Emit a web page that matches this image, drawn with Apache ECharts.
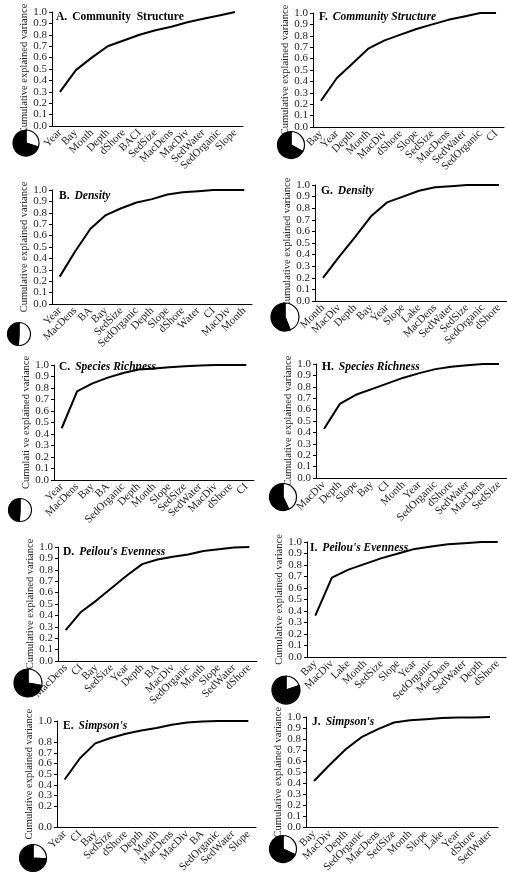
<!DOCTYPE html>
<html>
<head>
<meta charset="utf-8">
<script src="https://cdn.jsdelivr.net/npm/echarts@6/dist/echarts.min.js"></script>
<style>
  html, body { margin: 0; padding: 0; background: #fff; }
  #main { width: 507px; height: 875px; }
</style>
</head>
<body>
<div id="main"></div>
<script>
// category order + cumulative explained variance, one pair per panel
const catsA = ['Year', 'Bay', 'Month', 'Depth', 'dShore', 'BACI', 'SedSize', 'MacDens', 'MacDiv', 'SedWater', 'SedOrganic', 'Slope'];
const valsA = [0.30, 0.49, 0.60, 0.70, 0.75, 0.80, 0.84, 0.87, 0.91, 0.94, 0.97, 1.00];
const catsB = ['Year', 'MacDens', 'BA', 'Bay', 'SedSize', 'SedOrganic', 'Depth', 'Slope', 'dShore', 'Water', 'CI', 'MacDiv', 'Month'];
const valsB = [0.24, 0.46, 0.66, 0.78, 0.84, 0.89, 0.92, 0.96, 0.98, 0.99, 1.00, 1.00, 1.00];
const catsC = ['Year', 'MacDens', 'Bay', 'BA', 'SedOrganic', 'Depth', 'Month', 'Slope', 'SedSize', 'SedWater', 'MacDiv', 'dShore', 'CI'];
const valsC = [0.45, 0.77, 0.84, 0.89, 0.93, 0.96, 0.97, 0.98, 0.99, 0.995, 1.00, 1.00, 1.00];
const catsD = ['MacDens', 'CI', 'Bay', 'SedSize', 'Year', 'Depth', 'BA', 'MacDiv', 'SedOrganic', 'Month', 'Slope', 'SedWater', 'dShore'];
const valsD = [0.27, 0.43, 0.53, 0.64, 0.75, 0.85, 0.89, 0.915, 0.935, 0.965, 0.98, 0.995, 1.00];
const catsE = ['Year', 'CI', 'Bay', 'SedSize', 'dShore', 'Depth', 'Month', 'MacDens', 'MacDiv', 'BA', 'SedOrganic', 'SedWater', 'Slope'];
const valsE = [0.45, 0.65, 0.79, 0.84, 0.88, 0.91, 0.935, 0.965, 0.985, 0.995, 1.00, 1.00, 1.00];
const catsF = ['Bay', 'Year', 'Depth', 'Month', 'MacDiv', 'dShore', 'Slope', 'SedSize', 'MacDens', 'SedWater', 'SedOrganic', 'CI'];
const valsF = [0.23, 0.43, 0.56, 0.69, 0.76, 0.81, 0.86, 0.90, 0.94, 0.97, 1.00, 1.00];
const catsG = ['Month', 'MacDiv', 'Depth', 'Bay', 'Year', 'Slope', 'Lake', 'MacDens', 'SedWater', 'SedSize', 'SedOrganic', 'dShore'];
const valsG = [0.20, 0.38, 0.55, 0.73, 0.85, 0.90, 0.95, 0.98, 0.99, 1.00, 1.00, 1.00];
const catsH = ['MacDiv', 'Depth', 'Slope', 'Bay', 'CI', 'Month', 'Year', 'SedOrganic', 'dShore', 'SedWater', 'MacDens', 'SedSize'];
const valsH = [0.43, 0.65, 0.73, 0.78, 0.83, 0.88, 0.92, 0.955, 0.975, 0.99, 1.00, 1.00];
const catsI = ['Bay', 'MacDiv', 'Lake', 'Month', 'SedSize', 'Slope', 'Year', 'SedOrganic', 'MacDens', 'SedWater', 'Depth', 'dShore'];
const valsI = [0.36, 0.69, 0.76, 0.81, 0.86, 0.90, 0.94, 0.96, 0.98, 0.99, 1.00, 1.00];
const catsJ = ['Bay', 'MacDiv', 'Depth', 'SedOrganic', 'MacDens', 'SedSize', 'Month', 'Slope', 'Lake', 'Year', 'dShore', 'SedWater'];
const valsJ = [0.42, 0.57, 0.71, 0.82, 0.89, 0.95, 0.97, 0.98, 0.99, 0.995, 0.995, 1.00];

// pie inset shares: [white, black]
const pieA = [0.30, 0.70];
const pieB = [0.51, 0.49];
const pieC = [0.51, 0.49];
const pieD = [0.28, 0.72];
const pieE = [0.26, 0.74];
const pieF = [0.33, 0.67];
const pieG = [0.44, 0.56];
const pieH = [0.43, 0.57];
const pieI = [0.20, 0.80];
const pieJ = [0.32, 0.68];

const yTicks = [0, 0.1, 0.2, 0.3, 0.4, 0.5, 0.6, 0.7, 0.8, 0.9, 1.0];
const yName = 'Cumulative explained variance';

const panels = [
    { letter: 'A.', name: 'Community  Structure', italic: false, cats: catsA, vals: valsA, pie: pieA,
      grid: { left: 52, top: 12, width: 191, height: 114 }, pieAt: [26, 143], r: 13, titleAt: [56, 8], yLabel: yName },
    { letter: 'B.', name: 'Density', italic: true, cats: catsB, vals: valsB, pie: pieB,
      grid: { left: 52, top: 190, width: 200, height: 114 }, pieAt: [19, 334], r: 11.5, titleAt: [59, 187], yLabel: yName },
    { letter: 'C.', name: 'Species Richness', italic: true, cats: catsC, vals: valsC, pie: pieC,
      grid: { left: 54, top: 365, width: 200, height: 115 }, pieAt: [20, 510], r: 11.5, titleAt: [59, 358], yLabel: 'Cumulati ve explained variance' },
    { letter: 'D.', name: "Peilou's Evenness", italic: true, cats: catsD, vals: valsD, pie: pieD,
      grid: { left: 58, top: 547, width: 199, height: 114 }, pieAt: [28, 683], r: 14, titleAt: [63, 543], yLabel: yName },
    { letter: 'E.', name: "Simpson's", italic: true, cats: catsE, vals: valsE, pie: pieE,
      grid: { left: 57, top: 721, width: 199, height: 114 }, pieAt: [33, 858], r: 13.5, titleAt: [63, 717], yLabel: yName },
    { letter: 'F.', name: 'Community Structure', italic: true, cats: catsF, vals: valsF, pie: pieF,
      grid: { left: 313, top: 13, width: 191, height: 114 }, pieAt: [291, 145], r: 13.5, titleAt: [319, 8], yLabel: yName },
    { letter: 'G.', name: 'Density', italic: true, cats: catsG, vals: valsG, pie: pieG,
      grid: { left: 315, top: 185, width: 208, height: 116 }, pieAt: [285, 317], r: 14, titleAt: [321, 182], yLabel: yName },
    { letter: 'H.', name: 'Species Richness', italic: true, cats: catsH, vals: valsH, pie: pieH,
      grid: { left: 316, top: 364, width: 205, height: 114 }, pieAt: [283, 497], r: 13.5, titleAt: [322, 358], yLabel: yName },
    { letter: 'I.', name: "Peilou's Evenness", italic: true, cats: catsI, vals: valsI, pie: pieI,
      grid: { left: 307, top: 542, width: 199, height: 115 }, pieAt: [286, 690], r: 14, titleAt: [310, 539], yLabel: yName },
    { letter: 'J.', name: "Simpson's", italic: true, cats: catsJ, vals: valsJ, pie: pieJ,
      grid: { left: 306, top: 717, width: 192, height: 114 }, pieAt: [283, 849], r: 13.5, titleAt: [312, 713], yLabel: yName }
];

const serif = 'Liberation Serif';
const chart = echarts.init(document.getElementById('main'), null, { renderer: 'canvas' });

const option = {
    backgroundColor: '#fff',
    animation: false,
    title: [],
    grid: [],
    xAxis: [],
    yAxis: [],
    series: []
};

panels.forEach((p, i) => {
    option.grid.push(Object.assign({ containLabel: false }, p.grid));
    option.title.push({
        left: p.titleAt[0],
        top: p.titleAt[1],
        padding: 0,
        text: '{b|' + p.letter + '} {' + (p.italic ? 'i' : 'b') + '|' + p.name + '}',
        textStyle: {
            rich: {
                b: { fontFamily: serif, fontSize: 11.5, fontWeight: 'bold', color: '#000' },
                i: { fontFamily: serif, fontSize: 11.5, fontWeight: 'bold', fontStyle: 'italic', color: '#000' }
            }
        }
    });
    option.xAxis.push({
        type: 'category',
        gridIndex: i,
        data: p.cats,
        boundaryGap: true,
        axisLine: { lineStyle: { color: '#000', width: 1 } },
        axisTick: { length: 4, lineStyle: { color: '#000' } },
        axisLabel: {
            interval: 0,
            rotate: 45,
            margin: 5,
            fontFamily: serif,
            fontSize: 11,
            color: '#222'
        },
        splitLine: { show: false }
    });
    option.yAxis.push({
        type: 'value',
        gridIndex: i,
        min: 0,
        max: 1,
        interval: 0.1,
        name: p.yLabel,
        nameLocation: 'middle',
        nameRotate: 90,
        nameGap: 22,
        nameTextStyle: { fontFamily: serif, fontSize: 10.5, color: '#222' },
        axisLine: { show: true, lineStyle: { color: '#000', width: 1 } },
        axisTick: { show: true, length: 3, lineStyle: { color: '#000' } },
        axisLabel: {
            margin: 5,
            showMinLabel: true,
            showMaxLabel: true,
            fontFamily: serif,
            fontSize: 11,
            lineHeight: 11,
            color: '#222',
            formatter: v => yTicks.includes(Math.round(v * 10) / 10) ? v.toFixed(1) : ''
        },
        splitLine: { show: false }
    });
    option.series.push({
        type: 'line',
        xAxisIndex: i,
        yAxisIndex: i,
        data: p.vals,
        symbol: 'none',
        lineStyle: { color: '#000', width: 2 },
        silent: true
    });
    option.series.push({
        type: 'pie',
        center: p.pieAt,
        radius: p.r,
        startAngle: 90,
        clockwise: true,
        silent: true,
        label: { show: false },
        labelLine: { show: false },
        itemStyle: { borderColor: '#000', borderWidth: 1.2 },
        data: [
            { value: p.pie[0], itemStyle: { color: '#fff' } },
            { value: p.pie[1], itemStyle: { color: '#000' } }
        ]
    });
});

chart.setOption(option);
</script>
</body>
</html>
